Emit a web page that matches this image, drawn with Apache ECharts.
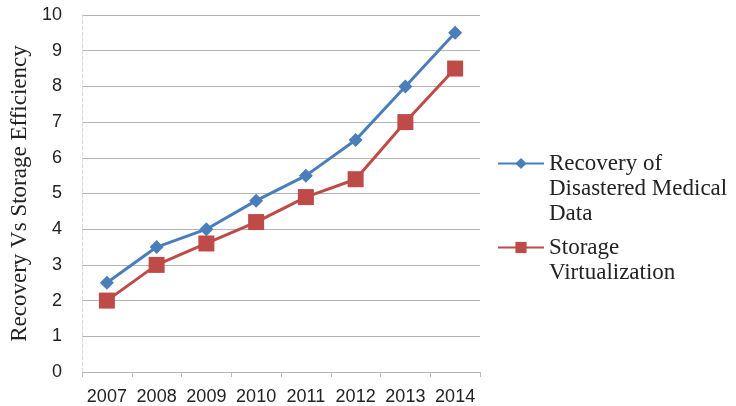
<!DOCTYPE html>
<html><head><meta charset="utf-8">
<script src="https://cdn.jsdelivr.net/npm/echarts@6/dist/echarts.min.js"></script>
<style>html,body{margin:0;padding:0;background:#fff}#c{width:736px;height:406px}</style>
</head><body><div id="c"></div>
<script>
const categories = ['2007','2008','2009','2010','2011','2012','2013','2014'];
const recoveryValues = [2.5, 3.5, 4.0, 4.8, 5.5, 6.5, 8.0, 9.5];
const storageValues = [2.0, 3.0, 3.6, 4.2, 4.9, 5.4, 7.0, 8.5];
const seriesNames = ['Recovery of Disastered Medical Data', 'Storage Virtualization'];
// leading blank lines keep the legend icon level with the first text line
const legendLabels = ['\n\nRecovery of\nDisastered Medical\nData', '\nStorage\nVirtualization'];
const yAxisTitle = 'Recovery Vs Storage Efficiency';

const blue = '#4A7EBB', red = '#BE4B48';
const chart = echarts.init(document.getElementById('c'));
const legendText = {fontFamily:'Liberation Serif', fontSize:23, color:'#222', lineHeight:25};
chart.setOption({
  animation:false,
  grid:{left:82, right:256, top:15, bottom:34},
  legend:[
    {data:[seriesNames[0]], left:492, top:96, itemWidth:46, itemHeight:14, itemGap:0,
     formatter:()=>legendLabels[0], textStyle:legendText},
    {data:[seriesNames[1]], left:492, top:205, itemWidth:46, itemHeight:14, itemGap:0,
     formatter:()=>legendLabels[1], textStyle:legendText}
  ],
  xAxis:{type:'category', data:categories, boundaryGap:true,
    axisLine:{show:false}, axisTick:{show:true, length:5, lineStyle:{color:'#bbb'}},
    axisLabel:{interval:0, hideOverlap:false, fontFamily:'Liberation Sans', fontSize:18, color:'#222', margin:16}},
  yAxis:{type:'value', min:0, max:10, interval:1,
    name:yAxisTitle, nameLocation:'middle', nameGap:46,
    nameTextStyle:{fontFamily:'Liberation Serif', fontSize:23, color:'#222'},
    axisLine:{show:true, lineStyle:{color:'#d8d8d8', type:'dashed'}},
    axisTick:{show:false},
    splitLine:{lineStyle:{color:'#b4b4b4', width:1}},
    axisLabel:{fontFamily:'Liberation Sans', fontSize:18, color:'#222', margin:20}},
  series:[
    {name:seriesNames[0], type:'line', data:recoveryValues, symbol:'diamond', symbolSize:14,
     itemStyle:{color:blue}, lineStyle:{color:blue, width:3}},
    {name:seriesNames[1], type:'line', data:storageValues, symbol:'rect', symbolSize:16,
     itemStyle:{color:red}, lineStyle:{color:red, width:3}}
  ]
});
</script></body></html>
